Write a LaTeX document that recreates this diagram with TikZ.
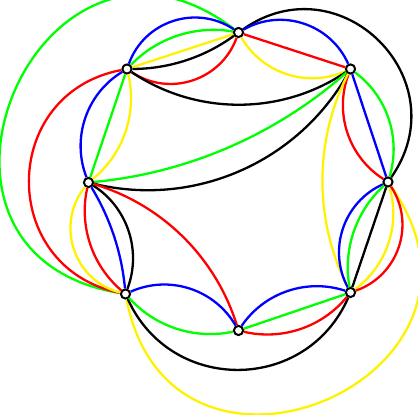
\documentclass[tikz,border=0pt]{standalone}
\usepackage{tikz}

\begin{document}
\begin{tikzpicture}[x=0.5pt,y=0.5pt]
\tikzset{vertex/.style={draw,circle,fill=white,inner sep=0pt,minimum size=4.6pt,line width=1pt},
  every edge/.style={draw,line width=1.15pt},
  arcl/.code={\pgfmathsetmacro\loose{0.8514/(cos(#1/2))^2}\edef\tmp{\noexpand\pgfkeysalso{bend left=#1,looseness=\loose}}\tmp},
  arcr/.code={\pgfmathsetmacro\loose{0.8514/(cos(#1/2))^2}\edef\tmp{\noexpand\pgfkeysalso{bend right=#1,looseness=\loose}}\tmp}}
\useasboundingbox (0,0) rectangle (418,415);
\node (1) at (238.5,382.5) [vertex] {};
\node (2) at (127,346) [vertex] {};
\node (3) at (350.5,346) [vertex] {};
\node (4) at (88.5,232.5) [vertex] {};
\node (5) at (388,233) [vertex] {};
\node (6) at (125.5,121) [vertex] {};
\node (7) at (350.5,122.5) [vertex] {};
\node (8) at (238.5,84.5) [vertex] {};

\path
(1) edge [green, bend right=104, looseness=2.16] (6)
(1) edge [black, arcl=80] (5)
(2) edge [red, arcr=79] (6)
(6) edge [yellow, bend right=102, looseness=2.07] (5)
(6) edge [black, arcr=66] (7)
(1) edge [blue, arcr=52] (2)
(1) edge [green, arcr=28] (2)
(1) edge [yellow] (2)
(1) edge [black, arcl=18] (2)
(1) edge [red, arcl=52] (2)
(1) edge [blue, arcl=48] (3)
(1) edge [red] (3)
(1) edge [yellow, arcr=42] (3)
(2) edge [black, arcr=34] (3)
(2) edge [blue, arcr=40] (4)
(2) edge [green] (4)
(2) edge [yellow, arcl=32] (4)
(4) edge [green, arcr=18] (3)
(4) edge [black, arcr=37] (3)
(4) edge [yellow, arcr=57] (6)
(4) edge [red, arcr=31] (6)
(4) edge [blue, arcl=13] (6)
(4) edge [black, arcl=39] (6)
(4) edge [red, arcl=28] (8)
(3) edge [red, arcr=39] (5)
(3) edge [blue] (5)
(3) edge [green, arcl=35] (5)
(3) edge [yellow, arcr=27] (7)
(5) edge [blue, arcr=47] (7)
(5) edge [green, arcr=29] (7)
(5) edge [black] (7)
(5) edge [yellow, arcl=35] (7)
(5) edge [red, arcl=52] (7)
(6) edge [blue, arcl=42] (8)
(6) edge [green, arcr=30] (8)
(7) edge [blue, arcr=37] (8)
(7) edge [green] (8)
(7) edge [red, arcl=32] (8);
\end{tikzpicture}
\end{document}
